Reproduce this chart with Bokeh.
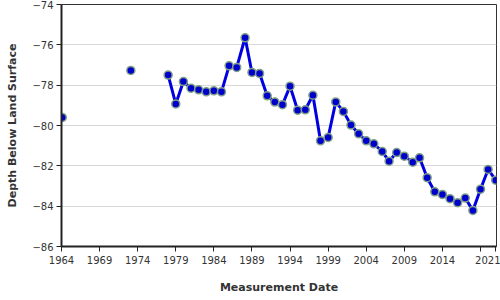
from bokeh.plotting import figure
from bokeh.models import FixedTicker, Range1d
from bokeh.embed import file_html
from bokeh.resources import INLINE

years = [1964.1, 1973.1, 1978.0, 1979.0, 1980.0, 1981.0, 1982.0, 1983.0, 1984.0, 1985.0,
         1986.0, 1987.0, 1988.1, 1989.0, 1990.0, 1991.0, 1992.0, 1993.0, 1994.0, 1995.0,
         1996.0, 1997.0, 1998.0, 1999.0, 2000.0, 2001.0, 2002.0, 2003.0, 2004.0, 2005.0,
         2006.1, 2007.0, 2008.0, 2009.0, 2010.1, 2011.0, 2012.0, 2013.0, 2014.0, 2015.0,
         2016.0, 2017.0, 2018.0, 2019.0, 2020.0, 2021.0]
depth = [-79.6, -77.27, -77.5, -78.93, -77.82, -78.15, -78.23, -78.33, -78.28, -78.33,
         -77.04, -77.12, -75.65, -77.37, -77.42, -78.53, -78.84, -78.97, -78.05, -79.24,
         -79.22, -78.5, -80.76, -80.59, -78.83, -79.3, -79.98, -80.41, -80.76, -80.91,
         -81.29, -81.77, -81.34, -81.52, -81.82, -81.6, -82.59, -83.29, -83.42, -83.63,
         -83.83, -83.6, -84.21, -83.16, -82.18, -82.71]
line_start = 2  # continuous record begins in 1978

x_ticks = [1964, 1969, 1974, 1979, 1984, 1989, 1994, 1999, 2004, 2009, 2014, 2019, 2021]
x_labels = {1964: "1964", 1969: "1969", 1974: "1974", 1979: "1979", 1984: "1984",
            1989: "1989", 1994: "1994", 1999: "1999", 2004: "2004", 2009: "2009",
            2014: "2014", 2019: "", 2021: "2021"}
y_ticks = [-86, -84, -82, -80, -78, -76, -74]

p = figure(width=500, height=300, output_backend="svg", toolbar_location=None,
           x_range=Range1d(1964.0, 2021.1), y_range=Range1d(-86, -74),
           min_border_left=61, min_border_right=4, min_border_top=4, min_border_bottom=54)

p.line(years[line_start:], depth[line_start:], line_color="#0000e0", line_width=3)
p.scatter(years, depth, size=8, fill_color="#0000cc", line_color="#7f9f86", line_width=1.5)

p.outline_line_color = "#333333"
p.outline_line_width = 1
p.xgrid.visible = False
p.ygrid.grid_line_color = "#d8d8d8"
p.ygrid.grid_line_width = 1

p.xaxis.ticker = FixedTicker(ticks=x_ticks)
p.xaxis.major_label_overrides = x_labels
p.yaxis.ticker = FixedTicker(ticks=y_ticks)

for ax in (p.xaxis[0], p.yaxis[0]):
    ax.axis_line_color = "#222222"
    ax.axis_line_width = 2
    ax.major_tick_line_color = "#222222"
    ax.major_tick_out = 5
    ax.major_tick_in = 0
    ax.minor_tick_line_color = None
    ax.major_label_text_font = "DejaVu Sans"
    ax.major_label_text_font_size = "10px"
    ax.major_label_text_color = "#333333"
    ax.axis_label_text_font = "DejaVu Sans"
    ax.axis_label_text_font_size = "11px"
    ax.axis_label_text_font_style = "bold"
    ax.axis_label_text_color = "#333333"

p.xaxis.axis_label = "Measurement Date"
p.yaxis.axis_label = "Depth Below Land Surface"
p.xaxis.major_label_standoff = 4
p.xaxis.axis_label_standoff = 14
p.yaxis.major_label_standoff = 3
p.yaxis.axis_label_standoff = 10

open("out.html", "w").write(file_html(p, INLINE))
